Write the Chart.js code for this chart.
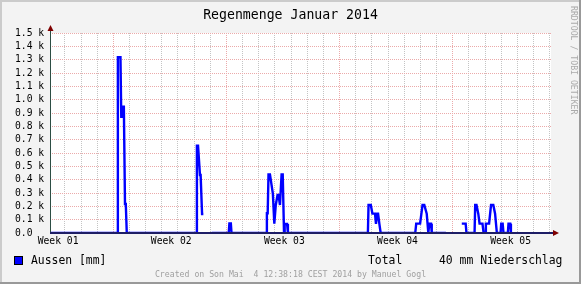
<!DOCTYPE html>
<html><head><meta charset="utf-8">
<script src="https://cdn.jsdelivr.net/npm/chart.js@4"></script>
<style>html,body{margin:0;padding:0;background:#f3f3f3;overflow:hidden}</style>
</head><body>
<canvas id="c" width="581" height="284" style="width:581px;height:284px;display:block"></canvas>
<script>
// ---- data ----
const chartTitle = 'Regenmenge Januar 2014';
const seriesName = 'Aussen [mm]';
const totalLabel = 'Total';
const totalText = '40 mm Niederschlag';
const footerText = 'Created on Son Mai  4 12:38:18 CEST 2014 by Manuel Gogl';
const watermark = 'RRDTOOL / TOBI OETIKER';
const weekLabels = ['Week 01', 'Week 02', 'Week 03', 'Week 04', 'Week 05'];
const weekLabelDays = [0.5, 7.5, 14.5, 21.5, 28.5];
const dayGridDays = [0.92,1.92,2.92,3.92,4.92,5.92,6.92,7.92,8.92,9.92,10.92,11.92,12.92,13.92,14.92,15.92,16.92,17.92,18.92,19.92,20.92,21.92,22.92,23.92,24.92,25.92,26.92,27.92,28.92,29.92,30.92];
const weekGridDays = [3.92, 10.92, 17.92, 24.92];
const yTickValues = [0,100,200,300,400,500,600,700,800,900,1000,1100,1200,1300,1400,1500];
const timeDays = [0,4.16,4.20,4.36,4.41,4.45,4.57,4.64,4.69,4.75,
  9.05,9.09,9.16,9.28,9.32,9.41,9.49,9.50,10.0,
  11.06,11.10,11.19,11.23,
  13.38,13.42,13.47,13.52,13.61,13.79,13.88,13.97,14.08,14.14,14.23,14.33,14.40,14.48,14.52,14.67,14.72,
  19.67,19.71,19.85,19.95,20.11,20.17,20.25,20.30,20.38,20.46,
  22.60,22.66,22.90,23.05,23.16,23.31,23.41,23.47,23.58,23.62,24.50,24.51,
  25.48,25.72,25.77,
  26.27,26.31,26.39,26.50,26.58,26.76,26.83,26.93,26.97,27.17,27.29,27.43,27.54,27.65,
  27.88,27.92,28.01,28.06,28.33,28.37,28.48,28.52,31];
const rainValues = [0,0,1318,1318,872,947,947,217,217,0,
  0,655,655,435,435,142,142,null,0,
  0,72,72,0,
  0,148,148,440,440,295,70,210,285,285,210,440,440,0,68,68,0,
  0,210,210,145,145,68,145,145,68,0,
  0,70,70,210,210,145,0,70,70,0,0,null,
  70,70,0,
  0,210,210,145,70,70,0,0,70,70,210,210,145,0,
  0,70,70,0,0,70,70,0];

const MONO = "'DejaVu Sans Mono', monospace";
const points = timeDays.map((d, i) => ({x: d, y: rainValues[i]}));

const xTicks = [];
dayGridDays.forEach(d => xTicks.push({value: d, kind: weekGridDays.some(w => Math.abs(w - d) < 1e-6) ? 'major' : 'minor'}));
weekLabelDays.forEach((d, i) => xTicks.push({value: d, kind: 'label', text: weekLabels[i]}));
xTicks.sort((a, b) => a.value - b.value);

const MAJOR = '#ebaaaa';
const MINOR = '#c4c4c4';

const decor = {
  id: 'decor',
  beforeDraw(chart) {
    const c = chart.ctx, a = chart.chartArea;
    c.save();
    c.fillStyle = '#f3f3f3';
    c.fillRect(0, 0, 581, 284);
    c.fillStyle = '#cbcbcb';
    c.fillRect(0, 0, 581, 2);
    c.fillRect(0, 0, 2, 284);
    c.fillStyle = '#999999';
    c.fillRect(0, 282, 581, 2);
    c.fillRect(579, 0, 2, 284);
    c.fillStyle = '#ffffff';
    c.fillRect(a.left, a.top, a.right - a.left, a.bottom - a.top);
    c.restore();
  },
  afterDatasetsDraw(chart) {
    const c = chart.ctx, a = chart.chartArea;
    const xs = chart.scales.x, ys = chart.scales.y;
    const x0 = Math.round(xs.getPixelForValue(0)) + 0.5;
    const yb = Math.round(ys.getPixelForValue(0));
    c.save();
    c.strokeStyle = '#2c4d43';
    c.lineWidth = 1;
    c.beginPath();
    c.moveTo(x0, yb); c.lineTo(x0, a.top - 4);
    c.stroke();
    c.strokeStyle = '#1e1e66';
    c.lineWidth = 2;
    c.beginPath();
    c.moveTo(x0 - 0.5, yb); c.lineTo(a.right + 4, yb);
    c.stroke();
    c.fillStyle = '#7f0000';
    c.beginPath();
    c.moveTo(x0 - 3, a.top - 2); c.lineTo(x0 + 3, a.top - 2); c.lineTo(x0, a.top - 8); c.closePath();
    c.fill();
    c.beginPath();
    c.moveTo(a.right + 2, yb - 3); c.lineTo(a.right + 2, yb + 3); c.lineTo(a.right + 8, yb); c.closePath();
    c.fill();
    c.restore();
  },
  afterDraw(chart) {
    const c = chart.ctx;
    c.save();
    c.fillStyle = '#000';
    c.textBaseline = 'alphabetic';
    c.font = '13.2px ' + MONO;
    c.textAlign = 'center';
    c.fillText(chartTitle, 290.5, 18.5);
    c.fillStyle = '#0000ff';
    c.fillRect(14, 256, 9, 9);
    c.strokeStyle = '#000';
    c.lineWidth = 1;
    c.strokeRect(14.5, 256.5, 8, 8);
    c.fillStyle = '#000';
    c.font = '11.4px ' + MONO;
    c.textAlign = 'left';
    c.fillText(seriesName, 31, 263.5);
    c.fillText(totalLabel, 368, 263.5);
    c.fillText(totalText, 439, 263.5);
    c.fillStyle = '#a0a0a0';
    c.font = '8.2px ' + MONO;
    c.textAlign = 'center';
    c.fillText(footerText, 290.5, 276.5);
    c.fillStyle = '#aaaaaa';
    c.translate(571, 6);
    c.rotate(Math.PI / 2);
    c.textAlign = 'left';
    c.fillText(watermark, 0, 0);
    c.restore();
  }
};

new Chart(document.getElementById('c'), {
  type: 'line',
  data: {
    datasets: [{
      label: seriesName,
      data: points,
      borderColor: '#0000ff',
      borderWidth: 2.4,
      pointRadius: 0,
      tension: 0,
      spanGaps: false,
      fill: false
    }]
  },
  options: {
    responsive: false,
    animation: false,
    devicePixelRatio: 1,
    layout: {padding: {left: 15, right: 30, top: 33, bottom: 0}},
    plugins: {legend: {display: false}, title: {display: false}, tooltip: {enabled: false}},
    scales: {
      x: {
        type: 'linear', min: 0, max: 31,
        afterBuildTicks: s => { s.ticks = xTicks.map(t => Object.assign({}, t)); },
        afterFit: s => { s.height = 51; },
        grid: {
          drawTicks: false,
          lineWidth: 1,
          color: ctx => ctx.tick && ctx.tick.kind === 'major' ? MAJOR : (ctx.tick && ctx.tick.kind === 'minor' ? MINOR : 'rgba(0,0,0,0)')
        },
        border: {display: false, dash: [1, 1]},
        ticks: {
          autoSkip: false, maxRotation: 0, minRotation: 0, padding: 3,
          color: '#000',
          font: {family: MONO, size: 9.7},
          callback: function(v, i, ticks) { return ticks[i].kind === 'label' ? ticks[i].text : ''; }
        }
      },
      y: {
        min: 0, max: 1500,
        afterBuildTicks: s => { s.ticks = yTickValues.map(v => ({value: v})); },
        afterFit: s => { s.width = 35; },
        grid: {
          drawTicks: false,
          lineWidth: 1,
          color: ctx => ctx.tick && ctx.tick.value === 0 ? 'rgba(0,0,0,0)' : MAJOR
        },
        border: {display: false, dash: [1, 1]},
        ticks: {
          autoSkip: false,
          crossAlign: 'far', padding: 4,
          color: '#000',
          font: {family: MONO, size: 9.7},
          callback: v => v === 0 ? '0.0' : (v / 1000).toFixed(1) + ' k'
        }
      }
    }
  },
  plugins: [decor]
});
</script>
</body></html>
